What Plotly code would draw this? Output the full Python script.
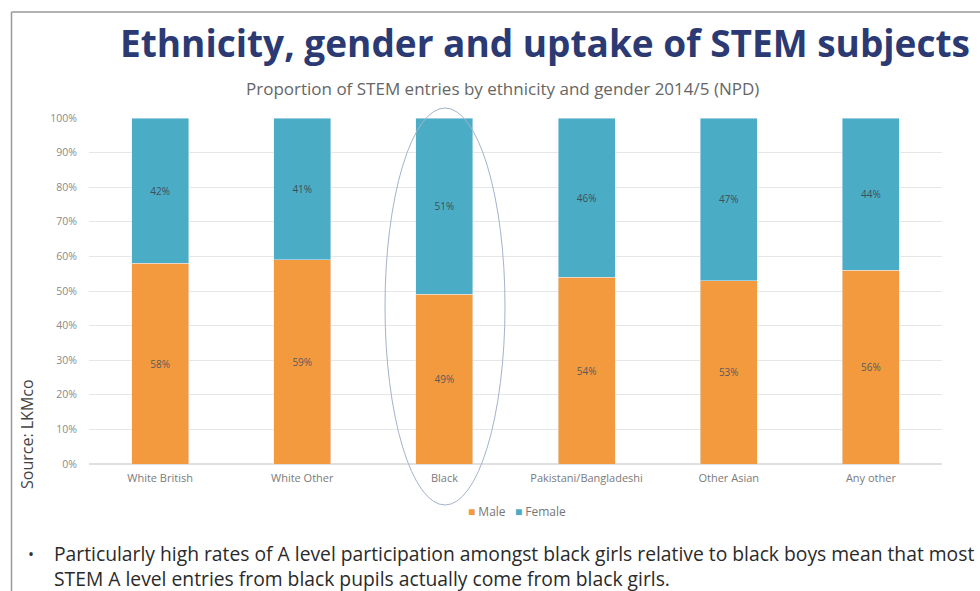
import plotly.graph_objects as go

categories = ["White British", "White Other", "Black", "Pakistani/Bangladeshi", "Other Asian", "Any other"]
male = [58, 59, 49, 54, 53, 56]
female = [42, 41, 51, 46, 47, 44]
y_ticks = [0, 10, 20, 30, 40, 50, 60, 70, 80, 90, 100]
y_tick_labels = [f"{v}%" for v in y_ticks]

ORANGE = "#F39A3E"
BLUE = "#4BACC6"
FONT = "Open Sans"

fig = go.Figure()
fig.add_trace(go.Bar(
    name="Male", x=categories, y=male, marker_color=ORANGE,
    text=[f"{v}%" for v in male], textposition="inside", insidetextanchor="middle",
    textfont=dict(size=10, color="#5A5A5A", family=FONT),
))
fig.add_trace(go.Bar(
    name="Female", x=categories, y=female, marker_color=BLUE,
    text=[f"{v}%" for v in female], textposition="inside", insidetextanchor="middle",
    textfont=dict(size=10, color="#3F4F5A", family=FONT),
))

L, R, T, B = 89, 38, 118, 127
W, H = 980, 591
pw, ph = W - L - R, H - T - B

def px_x(p):
    return (p - L) / pw

def px_y(p):
    return (H - B - p) / ph

legend_text = (f"<span style='color:{ORANGE}'>■</span> Male   "
               f"<span style='color:{BLUE}'>■</span> Female")

bullet_text = ("Particularly high rates of A level participation amongst black girls relative to black boys mean that most"
               "<br>STEM A level entries from black pupils actually come from black girls.")

fig.update_layout(
    barmode="stack",
    bargap=0.6,
    width=W, height=H,
    margin=dict(l=L, r=R, t=T, b=B),
    paper_bgcolor="white", plot_bgcolor="white",
    font=dict(family=FONT, color="#777777"),
    showlegend=False,
    xaxis=dict(showgrid=False, tickfont=dict(size=11, color="#7A7A7A"), showline=False,
               ticks="", ticklabelstandoff=6),
    yaxis=dict(range=[0, 100], tickvals=y_ticks, ticktext=y_tick_labels,
               tickfont=dict(size=10.5, color="#8A8A8A"), gridcolor="#E6E6E6", gridwidth=1,
               zeroline=True, zerolinecolor="#E0E0E0", showline=False, ticklabelstandoff=11),
    shapes=[
        # ellipse around Black
        dict(type="circle", xref="paper", yref="paper",
             x0=px_x(385), x1=px_x(505), y0=px_y(505), y1=px_y(108),
             line=dict(color="#A4B2CC", width=1)),
        # frame
        dict(type="line", xref="paper", yref="paper", x0=px_x(11.5), x1=px_x(11.5),
             y0=px_y(12), y1=px_y(600), line=dict(color="#999999", width=1.5)),
        dict(type="line", xref="paper", yref="paper", x0=px_x(11.5), x1=px_x(990),
             y0=px_y(12), y1=px_y(12), line=dict(color="#999999", width=1.5)),
    ],
    annotations=[
        dict(text="<b>Ethnicity, gender and uptake of STEM subjects</b>", xref="paper", yref="paper",
             x=px_x(545), y=px_y(42), xanchor="center", yanchor="middle", showarrow=False,
             font=dict(size=37, color="#2B3A72", family=FONT)),
        dict(text="Proportion of STEM entries by ethnicity and gender 2014/5 (NPD)", xref="paper", yref="paper",
             x=px_x(502), y=px_y(88), xanchor="center", yanchor="middle", showarrow=False,
             font=dict(size=17, color="#666666", family=FONT)),
        dict(text=legend_text, xref="paper", yref="paper",
             x=px_x(517), y=px_y(511), xanchor="center", yanchor="middle", showarrow=False,
             font=dict(size=12, color="#777777", family=FONT)),
        dict(text="Source: LKMco", xref="paper", yref="paper", textangle=-90,
             x=px_x(27), y=px_y(434), xanchor="center", yanchor="middle", showarrow=False,
             font=dict(size=16, color="#444444", family=FONT)),
        dict(text="•", xref="paper", yref="paper",
             x=px_x(31), y=px_y(554), xanchor="center", yanchor="middle", showarrow=False,
             font=dict(size=16, color="#333333", family=FONT)),
        dict(text=bullet_text, align="left",
             xref="paper", yref="paper", x=px_x(52), y=px_y(566), xanchor="left", yanchor="middle",
             showarrow=False, font=dict(size=19.3, color="#2A2A2A", family=FONT)),
    ],
)

fig.write_html("out.html")
